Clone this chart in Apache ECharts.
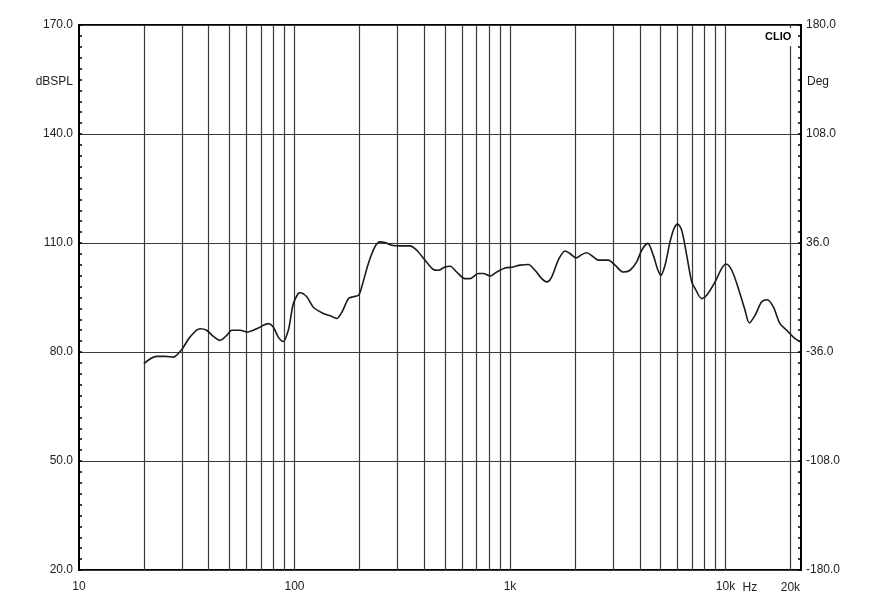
<!DOCTYPE html>
<html><head><meta charset="utf-8">
<script src="https://cdn.jsdelivr.net/npm/echarts@6/dist/echarts.min.js"></script>
<style>html,body{margin:0;padding:0;background:#fff}#c{width:880px;height:600px}</style>
</head><body><div id="c"></div>
<script>
const freqs = [20, 22.9, 25.1, 27.4, 30, 32.7, 36.4, 39.1, 42, 45.1, 48.5, 51.1, 55.9, 60, 66.8, 75.6, 79.7, 84.1, 88.7, 93.6, 95.3, 98.7, 104, 106, 114, 122, 136, 149, 157, 166, 178, 187, 198, 205, 220, 236, 249, 263, 282, 309, 344, 369, 403, 441, 465, 499, 527, 566, 618, 652, 713, 752, 808, 868, 948, 1036, 1113, 1216, 1306, 1404, 1481, 1562, 1675, 1800, 1898, 2025, 2151, 2269, 2435, 2569, 2859, 3071, 3356, 3605, 3871, 4084, 4355, 4624, 4826, 5005, 5240, 5527, 5768, 6000, 6262, 6607, 6969, 7220, 7755, 8178, 8941, 9603, 10050, 10690, 11470, 12320, 12900, 13710, 14720, 15630, 16670, 17900, 19230, 20640, 22170];
const spl = [76.8, 78.8, 78.8, 78.6, 80.7, 84.1, 86.4, 86.0, 84.3, 83.2, 84.6, 86.0, 86.0, 85.5, 86.4, 87.8, 86.9, 84.1, 82.9, 86.0, 88.3, 93.3, 96.1, 96.3, 95.2, 92.4, 90.6, 89.8, 89.2, 91.0, 94.7, 95.2, 95.6, 97.9, 104.3, 108.9, 110.3, 110.1, 109.4, 109.2, 109.2, 108.0, 105.3, 102.7, 102.5, 103.4, 103.6, 102.0, 100.2, 100.2, 101.6, 101.6, 100.9, 102.0, 103.1, 103.4, 103.9, 104.1, 102.5, 100.2, 99.3, 100.7, 105.3, 107.8, 107.1, 105.9, 106.8, 107.3, 106.2, 105.3, 105.3, 103.9, 102.0, 102.5, 104.8, 108.0, 109.9, 106.6, 103.0, 101.1, 103.9, 110.3, 114.0, 115.2, 113.5, 106.6, 99.3, 97.5, 94.7, 95.6, 99.3, 103.0, 104.2, 102.5, 97.5, 91.5, 88.0, 90.1, 93.8, 94.4, 92.4, 87.8, 86.0, 84.1, 82.8];
const gridFreqs = [20,30,40,50,60,70,80,90,100,200,300,400,500,600,700,800,900,1000,2000,3000,4000,5000,6000,7000,8000,9000,10000,20000];
const xLabels = {10:'10',100:'100',1000:'1k',10000:'10k'};
const xExtraLabel = {value:20000, text:'20k'};
const xUnit = 'Hz';
const yLeftName = 'dBSPL', yRightName = 'Deg', brand = 'CLIO';

const chart = echarts.init(document.getElementById('c'), null, {renderer:'canvas'});
const font = 'Arial, "Liberation Sans", sans-serif';
const txt = '#222';
chart.setOption({
  animation:false,
  backgroundColor:'#fff',
  grid:{left:79, right:79, top:25, bottom:30, show:true, borderColor:'#000', borderWidth:2, backgroundColor:'transparent'},
  xAxis:{type:'log', logBase:10, min:10, max:22400,
    axisLine:{show:false}, axisTick:{show:false}, splitLine:{show:false},
    axisLabel:{margin:11, fontSize:12, fontFamily:font, color:txt, showMaxLabel:false,
      formatter:v=>xLabels[Math.round(v)]||''}},
  yAxis:[
    {type:'value', min:20, max:170, interval:30, position:'left',
     axisLine:{show:true, lineStyle:{color:'#000', width:2}},
     axisTick:{show:true, inside:true, length:3, lineStyle:{color:'#000', width:1.5}},
     minorTick:{show:true, splitNumber:10, length:3, lineStyle:{color:'#000', width:1.5}},
     splitLine:{show:true, lineStyle:{color:'#3a3a3a', width:1.2}},
     axisLabel:{margin:6, fontSize:12, fontFamily:font, color:txt, formatter:v=>v.toFixed(1)}},
    {type:'value', min:-180, max:180, interval:72, position:'right',
     axisLine:{show:true, lineStyle:{color:'#000', width:2}},
     axisTick:{show:true, inside:true, length:3, lineStyle:{color:'#000', width:1.5}},
     minorTick:{show:true, splitNumber:10, length:3, lineStyle:{color:'#000', width:1.5}},
     splitLine:{show:false},
     axisLabel:{margin:5, fontSize:12, fontFamily:font, color:txt, formatter:v=>v.toFixed(1)}}
  ],
  series:[{
    type:'line', yAxisIndex:0, showSymbol:false, smooth:0.3,
    data:freqs.map((f,i)=>[f,spl[i]]),
    lineStyle:{color:'#1a1a1a', width:1.6},
    z:5,
    markLine:{silent:true, symbol:'none', label:{show:false}, animation:false,
      lineStyle:{color:'#3a3a3a', width:1.2, type:'solid'},
      data:gridFreqs.map(f=>({xAxis:f}))}
  }]
});
const xr = chart.convertToPixel({xAxisIndex:0}, xExtraLabel.value);
const x10k = chart.convertToPixel({xAxisIndex:0}, 10000);
const xmin = chart.convertToPixel({xAxisIndex:0}, 10);
const xmax = chart.convertToPixel({xAxisIndex:0}, 22400);
const yBot = chart.convertToPixel({yAxisIndex:0}, 20);
const yTop = chart.convertToPixel({yAxisIndex:0}, 170);
const yName = chart.convertToPixel({yAxisIndex:0}, 154.5);
chart.setOption({graphic:[
  {type:'text', x:xr, y:yBot+18, z:10, style:{text:xExtraLabel.text, font:'12px '+font, fill:txt, align:'center', verticalAlign:'middle'}},
  {type:'text', x:x10k+17, y:yBot+18, z:10, style:{text:xUnit, font:'12px '+font, fill:txt, align:'left', verticalAlign:'middle'}},
  {type:'text', x:xmin-6, y:yName, z:10, style:{text:yLeftName, font:'12px '+font, fill:txt, align:'right', verticalAlign:'middle'}},
  {type:'text', x:xmax+6, y:yName, z:10, style:{text:yRightName, font:'12px '+font, fill:txt, align:'left', verticalAlign:'middle'}},
  {type:'text', x:xr+1, y:yTop+12, z:10, style:{text:brand, font:'bold 11px '+font, fill:'#000', align:'right', verticalAlign:'middle', backgroundColor:'#fff', padding:[4,0,3,2]}}
]});
</script></body></html>
